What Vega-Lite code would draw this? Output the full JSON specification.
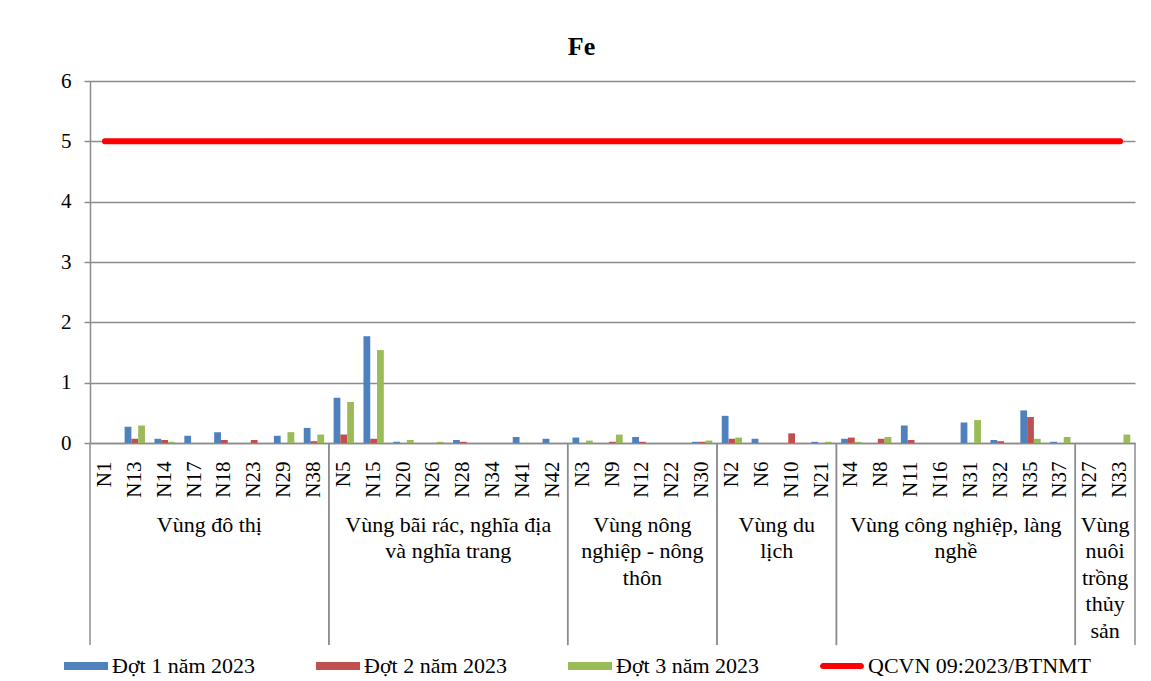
{
  "$schema": "https://vega.github.io/schema/vega-lite/v6.json",
  "autosize": {"type": "none"},
  "width": 1045,
  "height": 362,
  "padding": {"left": 90, "top": 81, "right": 16, "bottom": 238},
  "background": "white",
  "title": {"text": "Fe", "font": "Liberation Serif", "fontSize": 26, "fontWeight": "bold", "color": "black", "anchor": "middle", "dx": -31, "offset": -11, "baseline": "alphabetic"},
  "config": {"view": {"stroke": null}, "font": "Liberation Serif", "axis": {"labelFont": "Liberation Serif"}, "legend": {"labelFont": "Liberation Serif"}},
  "datasets": {
    "fe": [
      {"station": "N1", "dot": "Đợt 1 năm 2023", "fe": 0}, {"station": "N1", "dot": "Đợt 2 năm 2023", "fe": 0}, {"station": "N1", "dot": "Đợt 3 năm 2023", "fe": 0},
      {"station": "N13", "dot": "Đợt 1 năm 2023", "fe": 0.27}, {"station": "N13", "dot": "Đợt 2 năm 2023", "fe": 0.07}, {"station": "N13", "dot": "Đợt 3 năm 2023", "fe": 0.29},
      {"station": "N14", "dot": "Đợt 1 năm 2023", "fe": 0.07}, {"station": "N14", "dot": "Đợt 2 năm 2023", "fe": 0.05}, {"station": "N14", "dot": "Đợt 3 năm 2023", "fe": 0.02},
      {"station": "N17", "dot": "Đợt 1 năm 2023", "fe": 0.12}, {"station": "N17", "dot": "Đợt 2 năm 2023", "fe": 0}, {"station": "N17", "dot": "Đợt 3 năm 2023", "fe": 0},
      {"station": "N18", "dot": "Đợt 1 năm 2023", "fe": 0.18}, {"station": "N18", "dot": "Đợt 2 năm 2023", "fe": 0.05}, {"station": "N18", "dot": "Đợt 3 năm 2023", "fe": 0},
      {"station": "N23", "dot": "Đợt 1 năm 2023", "fe": 0}, {"station": "N23", "dot": "Đợt 2 năm 2023", "fe": 0.05}, {"station": "N23", "dot": "Đợt 3 năm 2023", "fe": 0},
      {"station": "N29", "dot": "Đợt 1 năm 2023", "fe": 0.12}, {"station": "N29", "dot": "Đợt 2 năm 2023", "fe": 0}, {"station": "N29", "dot": "Đợt 3 năm 2023", "fe": 0.18},
      {"station": "N38", "dot": "Đợt 1 năm 2023", "fe": 0.25}, {"station": "N38", "dot": "Đợt 2 năm 2023", "fe": 0.03}, {"station": "N38", "dot": "Đợt 3 năm 2023", "fe": 0.14},
      {"station": "N5", "dot": "Đợt 1 năm 2023", "fe": 0.75}, {"station": "N5", "dot": "Đợt 2 năm 2023", "fe": 0.14}, {"station": "N5", "dot": "Đợt 3 năm 2023", "fe": 0.68},
      {"station": "N15", "dot": "Đợt 1 năm 2023", "fe": 1.77}, {"station": "N15", "dot": "Đợt 2 năm 2023", "fe": 0.07}, {"station": "N15", "dot": "Đợt 3 năm 2023", "fe": 1.54},
      {"station": "N20", "dot": "Đợt 1 năm 2023", "fe": 0.02}, {"station": "N20", "dot": "Đợt 2 năm 2023", "fe": 0}, {"station": "N20", "dot": "Đợt 3 năm 2023", "fe": 0.05},
      {"station": "N26", "dot": "Đợt 1 năm 2023", "fe": 0}, {"station": "N26", "dot": "Đợt 2 năm 2023", "fe": 0}, {"station": "N26", "dot": "Đợt 3 năm 2023", "fe": 0.02},
      {"station": "N28", "dot": "Đợt 1 năm 2023", "fe": 0.05}, {"station": "N28", "dot": "Đợt 2 năm 2023", "fe": 0.02}, {"station": "N28", "dot": "Đợt 3 năm 2023", "fe": 0},
      {"station": "N34", "dot": "Đợt 1 năm 2023", "fe": 0}, {"station": "N34", "dot": "Đợt 2 năm 2023", "fe": 0}, {"station": "N34", "dot": "Đợt 3 năm 2023", "fe": 0},
      {"station": "N41", "dot": "Đợt 1 năm 2023", "fe": 0.1}, {"station": "N41", "dot": "Đợt 2 năm 2023", "fe": 0}, {"station": "N41", "dot": "Đợt 3 năm 2023", "fe": 0},
      {"station": "N42", "dot": "Đợt 1 năm 2023", "fe": 0.07}, {"station": "N42", "dot": "Đợt 2 năm 2023", "fe": 0}, {"station": "N42", "dot": "Đợt 3 năm 2023", "fe": 0},
      {"station": "N3", "dot": "Đợt 1 năm 2023", "fe": 0.09}, {"station": "N3", "dot": "Đợt 2 năm 2023", "fe": 0}, {"station": "N3", "dot": "Đợt 3 năm 2023", "fe": 0.04},
      {"station": "N9", "dot": "Đợt 1 năm 2023", "fe": 0}, {"station": "N9", "dot": "Đợt 2 năm 2023", "fe": 0.02}, {"station": "N9", "dot": "Đợt 3 năm 2023", "fe": 0.14},
      {"station": "N12", "dot": "Đợt 1 năm 2023", "fe": 0.1}, {"station": "N12", "dot": "Đợt 2 năm 2023", "fe": 0.02}, {"station": "N12", "dot": "Đợt 3 năm 2023", "fe": 0},
      {"station": "N22", "dot": "Đợt 1 năm 2023", "fe": 0}, {"station": "N22", "dot": "Đợt 2 năm 2023", "fe": 0}, {"station": "N22", "dot": "Đợt 3 năm 2023", "fe": 0},
      {"station": "N30", "dot": "Đợt 1 năm 2023", "fe": 0.02}, {"station": "N30", "dot": "Đợt 2 năm 2023", "fe": 0.02}, {"station": "N30", "dot": "Đợt 3 năm 2023", "fe": 0.04},
      {"station": "N2", "dot": "Đợt 1 năm 2023", "fe": 0.45}, {"station": "N2", "dot": "Đợt 2 năm 2023", "fe": 0.07}, {"station": "N2", "dot": "Đợt 3 năm 2023", "fe": 0.09},
      {"station": "N6", "dot": "Đợt 1 năm 2023", "fe": 0.07}, {"station": "N6", "dot": "Đợt 2 năm 2023", "fe": 0}, {"station": "N6", "dot": "Đợt 3 năm 2023", "fe": 0},
      {"station": "N10", "dot": "Đợt 1 năm 2023", "fe": 0}, {"station": "N10", "dot": "Đợt 2 năm 2023", "fe": 0.16}, {"station": "N10", "dot": "Đợt 3 năm 2023", "fe": 0},
      {"station": "N21", "dot": "Đợt 1 năm 2023", "fe": 0.02}, {"station": "N21", "dot": "Đợt 2 năm 2023", "fe": 0}, {"station": "N21", "dot": "Đợt 3 năm 2023", "fe": 0.02},
      {"station": "N4", "dot": "Đợt 1 năm 2023", "fe": 0.07}, {"station": "N4", "dot": "Đợt 2 năm 2023", "fe": 0.09}, {"station": "N4", "dot": "Đợt 3 năm 2023", "fe": 0.02},
      {"station": "N8", "dot": "Đợt 1 năm 2023", "fe": 0}, {"station": "N8", "dot": "Đợt 2 năm 2023", "fe": 0.07}, {"station": "N8", "dot": "Đợt 3 năm 2023", "fe": 0.1},
      {"station": "N11", "dot": "Đợt 1 năm 2023", "fe": 0.29}, {"station": "N11", "dot": "Đợt 2 năm 2023", "fe": 0.05}, {"station": "N11", "dot": "Đợt 3 năm 2023", "fe": 0},
      {"station": "N16", "dot": "Đợt 1 năm 2023", "fe": 0}, {"station": "N16", "dot": "Đợt 2 năm 2023", "fe": 0}, {"station": "N16", "dot": "Đợt 3 năm 2023", "fe": 0},
      {"station": "N31", "dot": "Đợt 1 năm 2023", "fe": 0.34}, {"station": "N31", "dot": "Đợt 2 năm 2023", "fe": 0}, {"station": "N31", "dot": "Đợt 3 năm 2023", "fe": 0.38},
      {"station": "N32", "dot": "Đợt 1 năm 2023", "fe": 0.05}, {"station": "N32", "dot": "Đợt 2 năm 2023", "fe": 0.03}, {"station": "N32", "dot": "Đợt 3 năm 2023", "fe": 0},
      {"station": "N35", "dot": "Đợt 1 năm 2023", "fe": 0.54}, {"station": "N35", "dot": "Đợt 2 năm 2023", "fe": 0.43}, {"station": "N35", "dot": "Đợt 3 năm 2023", "fe": 0.07},
      {"station": "N37", "dot": "Đợt 1 năm 2023", "fe": 0.02}, {"station": "N37", "dot": "Đợt 2 năm 2023", "fe": 0}, {"station": "N37", "dot": "Đợt 3 năm 2023", "fe": 0.1},
      {"station": "N27", "dot": "Đợt 1 năm 2023", "fe": 0}, {"station": "N27", "dot": "Đợt 2 năm 2023", "fe": 0}, {"station": "N27", "dot": "Đợt 3 năm 2023", "fe": 0},
      {"station": "N33", "dot": "Đợt 1 năm 2023", "fe": 0}, {"station": "N33", "dot": "Đợt 2 năm 2023", "fe": 0}, {"station": "N33", "dot": "Đợt 3 năm 2023", "fe": 0.14}
    ],
    "qcvn": [
      {"name": "QCVN 09:2023/BTNMT", "from": "N1", "to": "N33", "limit": 5}
    ],
    "groups": [
      {"label": "Vùng đô thị", "first": "N1", "last": "N38", "center": "N18", "n": 8},
      {"label": "Vùng bãi rác, nghĩa địa\nvà nghĩa trang", "first": "N5", "last": "N42", "center": "N28", "n": 8},
      {"label": "Vùng nông\nnghiệp - nông\nthôn", "first": "N3", "last": "N30", "center": "N12", "n": 5},
      {"label": "Vùng du\nlịch", "first": "N2", "last": "N21", "center": "N10", "n": 4},
      {"label": "Vùng công nghiệp, làng\nnghề", "first": "N4", "last": "N37", "center": "N31", "n": 8},
      {"label": "Vùng\nnuôi\ntrồng\nthủy\nsản", "first": "N27", "last": "N33", "center": "N33", "n": 2}
    ]
  },
  "layer": [
    {
      "data": {"name": "fe"},
      "mark": {"type": "bar"},
      "encoding": {
        "x": {
          "field": "station", "type": "nominal",
          "scale": {"domain": ["N1","N13","N14","N17","N18","N23","N29","N38","N5","N15","N20","N26","N28","N34","N41","N42","N3","N9","N12","N22","N30","N2","N6","N10","N21","N4","N8","N11","N16","N31","N32","N35","N37","N27","N33"], "paddingInner": 0, "paddingOuter": 0},
          "axis": {"title": null, "labelAngle": -90, "labelFont": "Liberation Serif", "labelFontSize": 21, "labelColor": "black", "labelPadding": 18, "ticks": false, "domainColor": "#8c8c8c", "domainWidth": 1.5, "grid": false}
        },
        "xOffset": {"field": "dot", "type": "nominal", "scale": {"paddingOuter": 0.7, "paddingInner": 0}},
        "y": {
          "field": "fe", "type": "quantitative",
          "scale": {"domain": [0, 6], "nice": false},
          "axis": {"title": null, "values": [0,1,2,3,4,5,6], "format": "d", "grid": true, "gridColor": "#8c8c8c", "gridWidth": 1.5, "domainColor": "#8c8c8c", "domainWidth": 1.5, "tickColor": "#8c8c8c", "tickWidth": 1.5, "tickSize": 6, "labelFont": "Liberation Serif", "labelFontSize": 21, "labelColor": "black", "labelPadding": 13}
        },
        "color": {
          "field": "dot", "type": "nominal",
          "scale": {"domain": ["Đợt 1 năm 2023", "Đợt 2 năm 2023", "Đợt 3 năm 2023", "QCVN 09:2023/BTNMT"], "range": ["#4F81BD", "#C0504D", "#9BBB59", "#FF0000"]},
          "legend": {
            "title": null, "orient": "none", "direction": "horizontal", "columns": 4, "legendX": -26, "legendY": 563,
            "columnPadding": 60, "symbolSize": 1936, "labelOffset": 4, "labelFont": "Liberation Serif", "labelFontSize": 22, "labelColor": "black", "labelLimit": 400, "padding": 0,
            "encode": {"symbols": {"update": {
              "shape": {"signal": "datum.value === 'QCVN 09:2023/BTNMT' ? 'M-0.86,-0.14L0.86,-0.14A0.14,0.14,0,0,1,0.86,0.14L-0.86,0.14A0.14,0.14,0,0,1,-0.86,-0.14Z' : 'M-1,-0.18L1,-0.18L1,0.18L-1,0.18Z'"},
              "fill": {"scale": "color", "field": "value"},
              "strokeWidth": {"value": 0},
              "opacity": {"value": 1}
            }}}
          }
        }
      }
    },
    {
      "data": {"name": "qcvn"},
      "mark": {"type": "rule", "strokeWidth": 6, "strokeCap": "round"},
      "encoding": {
        "x": {"field": "from", "type": "nominal"},
        "x2": {"field": "to"},
        "y": {"field": "limit", "type": "quantitative"},
        "color": {"field": "name", "type": "nominal"}
      }
    },
    {
      "data": {"name": "groups"},
      "mark": {"type": "rule", "color": "#8c8c8c", "strokeWidth": 1.5, "clip": false},
      "encoding": {
        "x": {"field": "first", "type": "nominal", "bandPosition": 0},
        "y": {"datum": 0, "type": "quantitative"},
        "y2": {"datum": -3.35}
      }
    },
    {
      "data": {"name": "groups"},
      "mark": {"type": "rule", "color": "#8c8c8c", "strokeWidth": 1.5, "clip": false},
      "encoding": {
        "x": {"field": "last", "type": "nominal", "bandPosition": 1},
        "y": {"datum": 0, "type": "quantitative"},
        "y2": {"datum": -3.35}
      }
    },
    {
      "data": {"name": "groups"},
      "transform": [{"filter": "datum.n % 2 === 0"}],
      "mark": {"type": "text", "font": "Liberation Serif", "fontSize": 22, "color": "black", "align": "center", "baseline": "alphabetic", "lineBreak": "\n", "lineHeight": 26.5, "clip": false},
      "encoding": {
        "x": {"field": "center", "type": "nominal", "bandPosition": 0},
        "y": {"datum": -1.475, "type": "quantitative"},
        "text": {"field": "label"}
      }
    },
    {
      "data": {"name": "groups"},
      "transform": [{"filter": "datum.n % 2 === 1"}],
      "mark": {"type": "text", "font": "Liberation Serif", "fontSize": 22, "color": "black", "align": "center", "baseline": "alphabetic", "lineBreak": "\n", "lineHeight": 26.5, "clip": false},
      "encoding": {
        "x": {"field": "center", "type": "nominal", "bandPosition": 0.5},
        "y": {"datum": -1.475, "type": "quantitative"},
        "text": {"field": "label"}
      }
    }
  ]
}
